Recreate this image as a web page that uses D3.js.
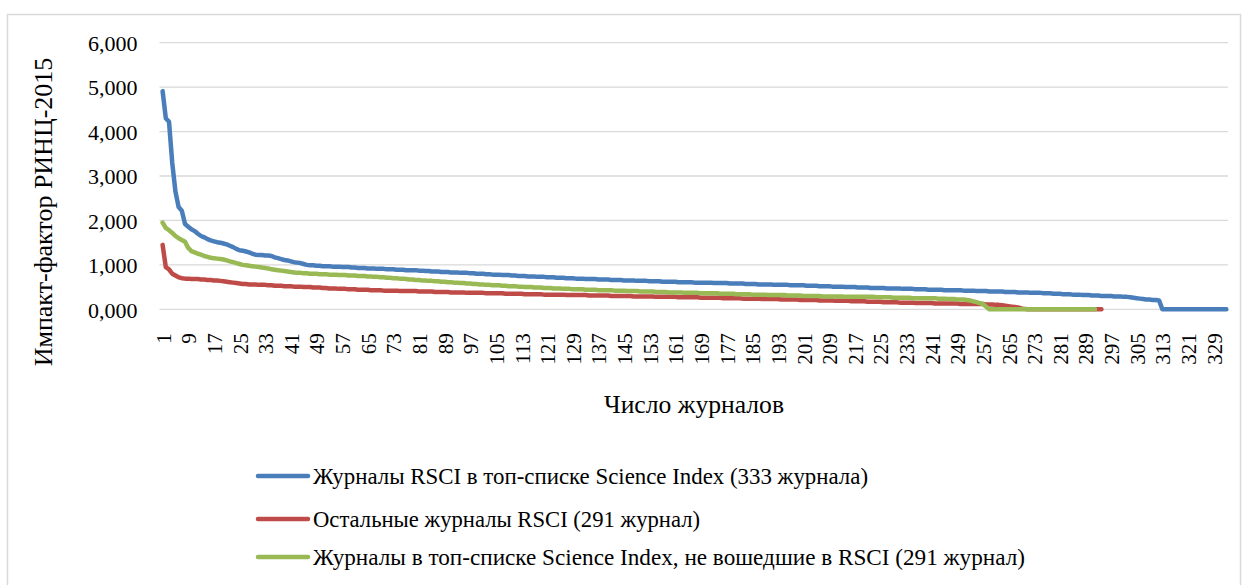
<!DOCTYPE html>
<html>
<head>
<meta charset="utf-8">
<script src="https://cdn.jsdelivr.net/npm/d3@7"></script>
<style>
  body { margin: 0; background: #fff; }
</style>
</head>
<body>
<div id="chart"></div>
<script>
// impact factor values, journals sorted high to low
const rsciTop = [
  4.91, 4.30, 4.22, 3.30, 2.65, 2.30, 2.22, 1.92, 1.86, 1.80,
  1.76, 1.70, 1.65, 1.62, 1.58, 1.55, 1.53, 1.51, 1.50, 1.48,
  1.46, 1.43, 1.40, 1.36, 1.33, 1.32, 1.30, 1.28, 1.25, 1.23,
  1.22, 1.22, 1.21, 1.21, 1.20, 1.17, 1.15, 1.13, 1.11, 1.10,
  1.08, 1.06, 1.05, 1.04, 1.02, 1.00, 0.99, 0.99, 0.98, 0.98,
  0.97, 0.97, 0.97, 0.96, 0.96, 0.96, 0.95, 0.95, 0.95, 0.94,
  0.94, 0.93, 0.93, 0.93, 0.92, 0.92, 0.92, 0.91, 0.91, 0.91,
  0.90, 0.90, 0.90, 0.89, 0.89, 0.89, 0.88, 0.88, 0.88, 0.88,
  0.87, 0.87, 0.86, 0.86, 0.85, 0.85, 0.85, 0.84, 0.84, 0.84,
  0.83, 0.83, 0.83, 0.82, 0.82, 0.82, 0.81, 0.81, 0.80, 0.80,
  0.80, 0.79, 0.79, 0.78, 0.78, 0.78, 0.77, 0.77, 0.77, 0.76,
  0.76, 0.75, 0.75, 0.75, 0.74, 0.74, 0.74, 0.73, 0.73, 0.73,
  0.72, 0.72, 0.72, 0.71, 0.71, 0.71, 0.70, 0.70, 0.70, 0.69,
  0.69, 0.69, 0.68, 0.68, 0.68, 0.68, 0.67, 0.67, 0.67, 0.67,
  0.66, 0.66, 0.66, 0.66, 0.65, 0.65, 0.65, 0.65, 0.64, 0.64,
  0.64, 0.64, 0.63, 0.63, 0.63, 0.63, 0.62, 0.62, 0.62, 0.62,
  0.62, 0.61, 0.61, 0.61, 0.61, 0.61, 0.60, 0.60, 0.60, 0.60,
  0.60, 0.60, 0.59, 0.59, 0.59, 0.59, 0.59, 0.58, 0.58, 0.58,
  0.58, 0.58, 0.57, 0.57, 0.57, 0.57, 0.56, 0.56, 0.56, 0.56,
  0.56, 0.55, 0.55, 0.55, 0.55, 0.55, 0.54, 0.54, 0.54, 0.54,
  0.54, 0.53, 0.53, 0.53, 0.53, 0.52, 0.52, 0.52, 0.52, 0.51,
  0.51, 0.51, 0.51, 0.50, 0.50, 0.50, 0.50, 0.49, 0.49, 0.49,
  0.49, 0.48, 0.48, 0.48, 0.48, 0.48, 0.47, 0.47, 0.47, 0.47,
  0.47, 0.46, 0.46, 0.46, 0.46, 0.45, 0.45, 0.45, 0.45, 0.44,
  0.44, 0.44, 0.44, 0.44, 0.43, 0.43, 0.43, 0.43, 0.43, 0.43,
  0.42, 0.42, 0.42, 0.42, 0.41, 0.41, 0.41, 0.41, 0.40, 0.40,
  0.40, 0.40, 0.40, 0.39, 0.39, 0.39, 0.39, 0.38, 0.38, 0.38,
  0.38, 0.37, 0.37, 0.37, 0.37, 0.36, 0.36, 0.36, 0.35, 0.35,
  0.35, 0.34, 0.34, 0.34, 0.33, 0.33, 0.33, 0.32, 0.32, 0.32,
  0.31, 0.31, 0.31, 0.30, 0.30, 0.30, 0.30, 0.29, 0.29, 0.29,
  0.28, 0.28, 0.27, 0.26, 0.25, 0.24, 0.23, 0.22, 0.22, 0.21,
  0.21, 0.20, 0, 0, 0, 0, 0, 0, 0, 0,
  0, 0, 0, 0, 0, 0, 0, 0, 0, 0,
  0, 0, 0
];

const rsciOther = [
  1.45, 0.95, 0.90, 0.80, 0.76, 0.72, 0.70, 0.69, 0.69, 0.68,
  0.68, 0.68, 0.67, 0.67, 0.66, 0.66, 0.65, 0.65, 0.64, 0.63,
  0.62, 0.61, 0.60, 0.59, 0.58, 0.57, 0.57, 0.56, 0.56, 0.56,
  0.55, 0.55, 0.55, 0.54, 0.54, 0.53, 0.53, 0.53, 0.52, 0.52,
  0.52, 0.51, 0.51, 0.51, 0.50, 0.50, 0.50, 0.49, 0.49, 0.49,
  0.48, 0.48, 0.47, 0.47, 0.47, 0.46, 0.46, 0.46, 0.45, 0.45,
  0.45, 0.44, 0.44, 0.44, 0.44, 0.43, 0.43, 0.43, 0.43, 0.42,
  0.42, 0.42, 0.42, 0.42, 0.41, 0.41, 0.41, 0.41, 0.41, 0.41,
  0.40, 0.40, 0.40, 0.40, 0.40, 0.39, 0.39, 0.39, 0.39, 0.39,
  0.38, 0.38, 0.38, 0.38, 0.38, 0.37, 0.37, 0.37, 0.37, 0.37,
  0.37, 0.36, 0.36, 0.36, 0.36, 0.36, 0.36, 0.35, 0.35, 0.35,
  0.35, 0.35, 0.35, 0.34, 0.34, 0.34, 0.34, 0.34, 0.34, 0.33,
  0.33, 0.33, 0.33, 0.33, 0.33, 0.33, 0.32, 0.32, 0.32, 0.32,
  0.32, 0.32, 0.32, 0.31, 0.31, 0.31, 0.31, 0.31, 0.31, 0.31,
  0.30, 0.30, 0.30, 0.30, 0.30, 0.30, 0.30, 0.29, 0.29, 0.29,
  0.29, 0.29, 0.29, 0.29, 0.28, 0.28, 0.28, 0.28, 0.28, 0.28,
  0.28, 0.27, 0.27, 0.27, 0.27, 0.27, 0.27, 0.27, 0.26, 0.26,
  0.26, 0.26, 0.26, 0.26, 0.26, 0.25, 0.25, 0.25, 0.25, 0.25,
  0.25, 0.24, 0.24, 0.24, 0.24, 0.24, 0.24, 0.23, 0.23, 0.23,
  0.23, 0.23, 0.23, 0.22, 0.22, 0.22, 0.22, 0.22, 0.22, 0.21,
  0.21, 0.21, 0.21, 0.21, 0.21, 0.20, 0.20, 0.20, 0.20, 0.20,
  0.19, 0.19, 0.19, 0.19, 0.19, 0.18, 0.18, 0.18, 0.18, 0.18,
  0.17, 0.17, 0.17, 0.17, 0.17, 0.16, 0.16, 0.16, 0.16, 0.16,
  0.15, 0.15, 0.15, 0.15, 0.15, 0.14, 0.14, 0.14, 0.14, 0.14,
  0.14, 0.13, 0.13, 0.13, 0.13, 0.13, 0.13, 0.13, 0.13, 0.12,
  0.12, 0.12, 0.12, 0.12, 0.12, 0.12, 0.12, 0.11, 0.11, 0.11,
  0.10, 0.10, 0.09, 0.08, 0.07, 0.06, 0.05, 0.04, 0.02, 0.01,
  0, 0, 0, 0, 0, 0, 0, 0, 0, 0,
  0, 0, 0, 0, 0, 0, 0, 0, 0, 0,
  0, 0, 0, 0
];

const topNotRsci = [
  1.95, 1.83, 1.78, 1.72, 1.65, 1.60, 1.56, 1.52, 1.38, 1.31,
  1.28, 1.25, 1.23, 1.20, 1.18, 1.16, 1.15, 1.14, 1.13, 1.12,
  1.10, 1.08, 1.06, 1.04, 1.02, 1.00, 0.99, 0.98, 0.97, 0.96,
  0.95, 0.94, 0.93, 0.92, 0.90, 0.89, 0.88, 0.87, 0.86, 0.85,
  0.84, 0.83, 0.82, 0.82, 0.81, 0.81, 0.80, 0.80, 0.80, 0.79,
  0.79, 0.79, 0.78, 0.78, 0.78, 0.77, 0.77, 0.77, 0.76, 0.76,
  0.76, 0.75, 0.75, 0.75, 0.74, 0.74, 0.73, 0.73, 0.72, 0.72,
  0.71, 0.71, 0.70, 0.70, 0.69, 0.69, 0.68, 0.67, 0.67, 0.66,
  0.66, 0.65, 0.65, 0.64, 0.64, 0.63, 0.63, 0.62, 0.62, 0.61,
  0.61, 0.60, 0.60, 0.59, 0.59, 0.58, 0.58, 0.57, 0.57, 0.56,
  0.56, 0.55, 0.55, 0.54, 0.54, 0.54, 0.53, 0.53, 0.52, 0.52,
  0.52, 0.51, 0.51, 0.50, 0.50, 0.50, 0.49, 0.49, 0.49, 0.48,
  0.48, 0.48, 0.47, 0.47, 0.47, 0.46, 0.46, 0.46, 0.45, 0.45,
  0.45, 0.45, 0.44, 0.44, 0.44, 0.44, 0.43, 0.43, 0.43, 0.43,
  0.43, 0.42, 0.42, 0.42, 0.42, 0.41, 0.41, 0.41, 0.41, 0.40,
  0.40, 0.40, 0.40, 0.40, 0.39, 0.39, 0.39, 0.39, 0.38, 0.38,
  0.38, 0.38, 0.38, 0.37, 0.37, 0.37, 0.37, 0.37, 0.36, 0.36,
  0.36, 0.36, 0.36, 0.36, 0.35, 0.35, 0.35, 0.35, 0.35, 0.34,
  0.34, 0.34, 0.34, 0.34, 0.33, 0.33, 0.33, 0.33, 0.33, 0.32,
  0.32, 0.32, 0.32, 0.32, 0.32, 0.31, 0.31, 0.31, 0.31, 0.31,
  0.30, 0.30, 0.30, 0.30, 0.30, 0.30, 0.29, 0.29, 0.29, 0.29,
  0.29, 0.29, 0.29, 0.28, 0.28, 0.28, 0.28, 0.28, 0.28, 0.28,
  0.28, 0.28, 0.28, 0.27, 0.27, 0.27, 0.27, 0.27, 0.26, 0.26,
  0.26, 0.26, 0.26, 0.26, 0.25, 0.25, 0.25, 0.25, 0.25, 0.25,
  0.25, 0.25, 0.24, 0.24, 0.24, 0.23, 0.23, 0.23, 0.22, 0.22,
  0.22, 0.21, 0.20, 0.18, 0.16, 0.14, 0.12, 0.06, 0, 0,
  0, 0, 0, 0, 0, 0, 0, 0, 0, 0,
  0, 0, 0, 0, 0, 0, 0, 0, 0, 0,
  0, 0, 0, 0, 0, 0, 0, 0, 0, 0,
  0, 0
];

const seriesNames = [
  "Журналы RSCI в топ-списке Science Index (333 журнала)",
  "Остальные журналы RSCI (291 журнал)",
  "Журналы в топ-списке Science Index, не вошедшие в RSCI (291 журнал)"
];
const seriesColors = ["#4a7ebb", "#be4b48", "#98b954"];
const yTicks = [0, 1, 2, 3, 4, 5, 6];
const xTickLabels = d3.range(1, 334, 8); // 1, 9, 17 ... 329
const journalCount = 333;
const yTitle = "Импакт-фактор РИНЦ-2015";
const xTitle = "Число журналов";

const serif = "Liberation Serif, DejaVu Serif, Noto Serif, FreeSerif, serif";
const width = 1244, height = 585;
const plotLeft = 159.5, plotRight = 1228;

const svg = d3.select("#chart").append("svg")
    .attr("width", width)
    .attr("height", height)
    .style("font-family", serif);

svg.append("rect")
    .attr("width", width).attr("height", height)
    .attr("fill", "#fff");

// chart frame
svg.append("rect")
    .attr("x", 7.5).attr("y", 14.5)
    .attr("width", 1233).attr("height", 590)
    .attr("fill", "none")
    .attr("stroke", "#d9d9d9")
    .attr("stroke-width", 1.5);

const x = d3.scalePoint()
    .domain(d3.range(1, journalCount + 1))
    .range([161, plotRight])
    .padding(0.5);

const y = d3.scaleLinear()
    .domain([0, 6])
    .range([309.3, 42.7]);

// gridlines
svg.append("g").selectAll("line")
    .data(yTicks)
    .enter().append("line")
    .attr("x1", plotLeft).attr("x2", plotRight)
    .attr("y1", d => y(d)).attr("y2", d => y(d))
    .attr("stroke", "#d9d9d9")
    .attr("stroke-width", 1.3);

// y axis, values with comma as decimal sign
const fmt = d => d3.format(".3f")(d).replace(".", ",");
const yAxis = svg.append("g")
    .attr("transform", `translate(${plotLeft},0)`)
    .call(d3.axisLeft(y).tickValues(yTicks).tickSize(0).tickPadding(22).tickFormat(fmt));
yAxis.attr("font-family", null).attr("font-size", null);
yAxis.select(".domain").remove();
yAxis.selectAll("text")
    .style("font-size", "22px")
    .attr("fill", "#000")
    .attr("dy", "0.35em");

// x axis, rotated labels
const xAxis = svg.append("g")
    .attr("transform", `translate(0,${y(0)})`)
    .call(d3.axisBottom(x).tickValues(xTickLabels).tickSize(0));
xAxis.attr("font-family", null).attr("font-size", null);
xAxis.select(".domain").remove();
xAxis.selectAll("text")
    .style("font-size", "21px")
    .attr("fill", "#000")
    .attr("text-anchor", "end")
    .attr("transform", "rotate(-90)")
    .attr("x", -24)
    .attr("y", 0)
    .attr("dy", "0.36em");

// lines
const line = d3.line()
    .x((d, i) => x(i + 1))
    .y(d => y(d));

const allSeries = [rsciTop, rsciOther, topNotRsci];
svg.append("g").selectAll("path")
    .data(allSeries)
    .enter().append("path")
    .attr("d", d => line(d))
    .attr("fill", "none")
    .attr("stroke", (d, i) => seriesColors[i])
    .attr("stroke-width", 4.5)
    .attr("stroke-linejoin", "round")
    .attr("stroke-linecap", "round");

// axis titles
svg.append("text")
    .text(yTitle)
    .attr("transform", "translate(52,212) rotate(-90)")
    .attr("text-anchor", "middle")
    .style("font-size", "26px");

svg.append("text")
    .text(xTitle)
    .attr("x", 694).attr("y", 413)
    .attr("text-anchor", "middle")
    .attr("textLength", 180)
    .attr("lengthAdjust", "spacingAndGlyphs")
    .style("font-size", "25px");

// legend
const legendY = [476, 519, 557];
const legendW = [555, 387, 712];
const legend = svg.append("g").selectAll("g")
    .data(seriesNames)
    .enter().append("g")
    .attr("transform", (d, i) => `translate(0,${legendY[i]})`);

legend.append("line")
    .attr("x1", 258).attr("x2", 308)
    .attr("stroke", (d, i) => seriesColors[i])
    .attr("stroke-width", 4.5)
    .attr("stroke-linecap", "round");

legend.append("text")
    .text(d => d)
    .attr("x", 313)
    .attr("dy", "0.35em")
    .attr("textLength", (d, i) => legendW[i])
    .attr("lengthAdjust", "spacingAndGlyphs")
    .style("font-size", "23px");
</script>
</body>
</html>
